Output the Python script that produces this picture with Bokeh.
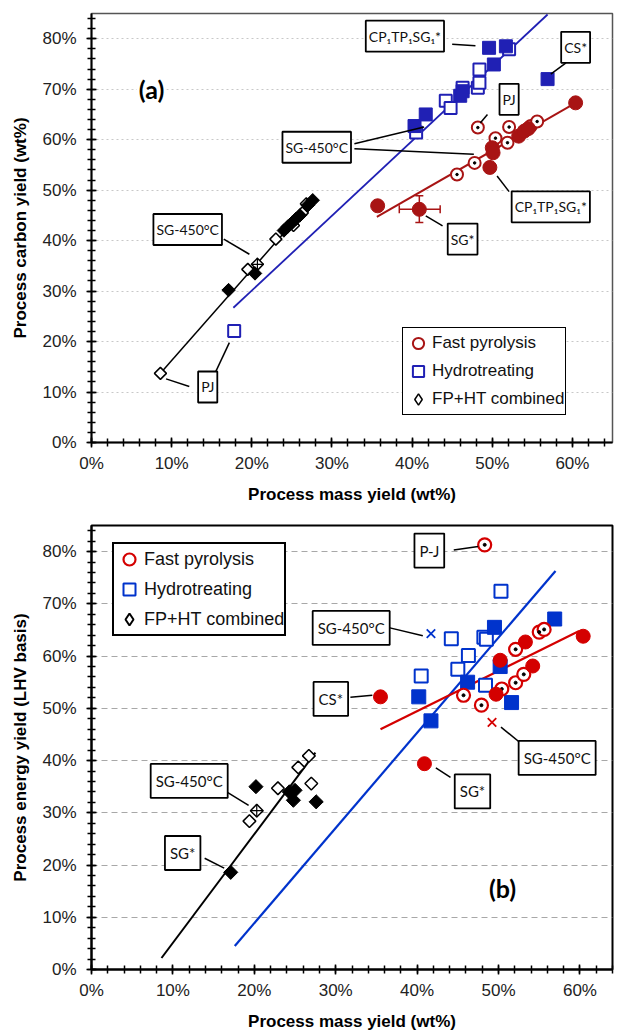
from bokeh.plotting import figure
from bokeh.models import (FixedTicker, Label, Legend, LegendItem, ColumnDataSource,
                          Whisker, TeeHead)
from bokeh.layouts import column
from bokeh.embed import file_html
from bokeh.resources import INLINE
import math

# ---------------- tick definitions ----------------
x_ticks = [0, 10, 20, 30, 40, 50, 60]
x_tick_labels = ["0%", "10%", "20%", "30%", "40%", "50%", "60%"]
y_ticks = [0, 10, 20, 30, 40, 50, 60, 70, 80]
y_tick_labels = ["0%", "10%", "20%", "30%", "40%", "50%", "60%", "70%", "80%"]
legend_labels = ["Fast pyrolysis", "Hydrotreating", "FP+HT combined"]

# ---------------- panel (a): carbon yield ----------------
a_fp_filled_x = [35.7, 40.9, 49.7, 50.0, 50.1, 53.3, 54.0, 54.5, 60.4]
a_fp_filled_y = [46.9, 46.2, 54.5, 58.4, 57.4, 60.7, 61.7, 62.2, 67.3]
a_fp_open_x = [45.6, 47.8, 48.2, 50.4, 51.9, 52.1, 54.8, 55.6]
a_fp_open_y = [53.1, 55.4, 62.4, 60.3, 59.4, 62.5, 62.7, 63.6]
a_sg_err_x = [40.9]
a_sg_err_y = [46.2]
a_sg_err_xlo = [38.4]
a_sg_err_xhi = [43.5]
a_sg_err_ylo = [43.6]
a_sg_err_yhi = [48.9]
a_fp_line_x = [35.6, 60.4]
a_fp_line_y = [44.7, 67.3]

a_ht_filled_x = [40.3, 41.7, 46.0, 46.3, 49.6, 50.2, 51.7, 56.9]
a_ht_filled_y = [62.7, 65.0, 68.7, 69.6, 78.2, 74.9, 78.5, 72.0]
a_ht_open_x = [17.8, 40.5, 44.2, 44.8, 46.3, 48.2, 48.4, 48.4, 52.1]
a_ht_open_y = [22.1, 61.4, 67.7, 66.3, 70.3, 70.3, 71.3, 73.9, 77.9]
a_ht_line_x = [17.7, 56.9]
a_ht_line_y = [26.7, 84.8]

a_comb_filled_x = [17.1, 20.4, 24.0, 24.5, 25.0, 25.5, 26.0, 27.0, 27.6]
a_comb_filled_y = [30.2, 33.5, 42.0, 42.8, 43.5, 44.3, 45.0, 47.0, 48.0]
a_comb_open_x = [8.6, 19.5, 23.0, 25.2, 26.3, 26.8]
a_comb_open_y = [13.7, 34.3, 40.3, 43.0, 45.5, 47.3]
a_comb_sg450_x = [20.7]
a_comb_sg450_y = [35.3]
a_comb_line_x = [8.6, 27.6]
a_comb_line_y = [13.7, 48.0]

# ---------------- panel (b): energy yield ----------------
b_fp_filled_x = [35.5, 40.9, 49.7, 50.2, 53.3, 54.2, 60.4]
b_fp_filled_y = [52.2, 39.4, 52.7, 59.2, 62.7, 58.1, 63.8]
b_fp_open_x = [48.3, 45.7, 47.9, 50.4, 52.1, 53.1, 52.1, 55.0, 55.6]
b_fp_open_y = [81.3, 52.5, 50.6, 53.7, 54.9, 56.5, 61.3, 64.6, 65.1]
b_fp_sg450_x = [49.2]
b_fp_sg450_y = [47.3]
b_fp_line_x = [35.5, 59.9]
b_fp_line_y = [46.0, 64.8]

b_ht_filled_x = [40.2, 41.7, 46.2, 49.5, 50.2, 51.6, 56.9]
b_ht_filled_y = [52.2, 47.6, 55.0, 65.5, 58.0, 51.1, 67.1]
b_ht_open_x = [40.5, 44.2, 45.0, 46.3, 48.2, 48.5, 48.4, 50.3]
b_ht_open_y = [56.2, 63.3, 57.5, 60.1, 63.6, 63.2, 54.4, 72.4]
b_ht_sg450_x = [41.7]
b_ht_sg450_y = [64.3]
b_ht_line_x = [17.6, 57.0]
b_ht_line_y = [4.5, 76.3]

b_comb_filled_x = [17.1, 20.2, 24.3, 24.8, 25.0, 27.6]
b_comb_filled_y = [18.6, 35.0, 34.0, 32.4, 34.3, 32.1]
b_comb_open_x = [19.4, 22.9, 25.4, 26.7, 27.0]
b_comb_open_y = [28.4, 34.7, 38.7, 40.9, 35.6]
b_comb_sg450_x = [20.3]
b_comb_sg450_y = [30.4]
b_comb_line_x = [8.6, 27.5]
b_comb_line_y = [2.2, 41.5]

# ---------------- annotations (text, anchor, connectors) ----------------
a_labels = [("CP\u2081TP\u2081SG\u2081*", 39.1, 80.5), ("CS*", 60.4, 78.3), ("PJ", 52.1, 68.0),
            ("SG-450\u00b0C", 28.1, 58.5), ("CP\u2081TP\u2081SG\u2081*", 57.3, 46.7), ("SG*", 46.3, 40.3),
            ("SG-450\u00b0C", 12.0, 42.2), ("PJ", 14.5, 11.0)]
a_conn = [(45.0, 78.9, 47.9, 78.6), (59.2, 75.2, 57.3, 73.0), (49.4, 65.0, 48.5, 63.3),
          (32.8, 59.2, 41.5, 62.5), (32.8, 58.2, 47.7, 57.1), (50.6, 52.8, 52.1, 49.7),
          (41.7, 44.9, 43.8, 42.9), (16.5, 40.3, 19.7, 37.3), (9.3, 12.6, 12.2, 11.1),
          (17.2, 19.8, 15.4, 13.7)]
b_labels = [("P-J", 41.5, 80.2), ("SG-450\u00b0C", 31.9, 65.4), ("CS*", 29.4, 51.8),
            ("SG-450\u00b0C", 57.2, 40.5), ("SG*", 46.8, 34.1), ("SG-450\u00b0C", 12.0, 36.1),
            ("SG*", 11.2, 22.3)]
b_conn = [(44.5, 80.3, 47.5, 81.0), (36.4, 65.5, 40.7, 63.9), (31.8, 52.1, 34.5, 52.5),
          (50.3, 46.4, 53.3, 42.6), (42.3, 38.6, 44.1, 36.8), (16.3, 34.3, 19.3, 31.4),
          (13.9, 21.3, 16.3, 19.4)]

AX_FONT = "Liberation Sans"
BOX_FONT = "Lato"


def make_fig(height, xmax, bb, bt, br, ylabel, grid_dash, grid_color, outline_color, outline_w):
    p = figure(width=622, height=height, x_range=(0, xmax), y_range=(0, 85),
               output_backend="svg", toolbar_location=None,
               min_border_left=91, min_border_right=br, min_border_top=bt, min_border_bottom=bb)
    p.xaxis.ticker = FixedTicker(ticks=x_ticks, minor_ticks=list(range(0, 66, 2)))
    p.yaxis.ticker = FixedTicker(ticks=y_ticks, minor_ticks=list(range(0, 86, 2)))
    p.xaxis.major_label_overrides = dict(zip(x_ticks, x_tick_labels))
    p.yaxis.major_label_overrides = dict(zip(y_ticks, y_tick_labels))
    for ax in (p.xaxis[0], p.yaxis[0]):
        ax.axis_line_color = "black"
        ax.axis_line_width = 2
        ax.major_tick_in = 5
        ax.major_tick_out = 5
        ax.minor_tick_in = 4
        ax.minor_tick_out = 4
        ax.major_tick_line_width = 1.5
        ax.minor_tick_line_width = 1.5
        ax.major_tick_line_color = "black"
        ax.minor_tick_line_color = "black"
        ax.major_label_text_font = AX_FONT
        ax.major_label_text_font_size = "17px"
        ax.major_label_text_color = "#222222"
        ax.axis_label_text_font = AX_FONT
        ax.axis_label_text_font_size = "17px"
        ax.axis_label_text_font_style = "bold"
        ax.axis_label_text_color = "black"
        ax.axis_label_standoff = 9
    p.xaxis.major_label_standoff = 6
    p.yaxis.major_label_standoff = 10
    p.xaxis.axis_label = "Process mass yield (wt%)"
    p.yaxis.axis_label = ylabel
    p.xgrid.visible = False
    p.ygrid.grid_line_color = grid_color
    p.ygrid.grid_line_dash = grid_dash
    p.ygrid.grid_line_width = 1.2
    p.outline_line_color = outline_color
    p.outline_line_width = outline_w
    p.background_fill_color = "white"
    p.border_fill_color = "white"
    return p


def add_labels(p, labels, conns, size, pad):
    for (x0, y0, x1, y1) in conns:
        p.segment(x0=[x0], y0=[y0], x1=[x1], y1=[y1], line_color="black", line_width=1.5)
    for (t, x, y) in labels:
        p.add_layout(Label(x=x, y=y, text=t, text_align="center", text_baseline="middle",
                           text_font=BOX_FONT, text_font_size=size, text_color="#111111",
                           border_line_color="black", border_line_width=1.8,
                           background_fill_color="white", padding=pad))


def make_legend(p, rends, loc, font_size, glyph, pad, bw):
    return Legend(items=[LegendItem(label=lab, renderers=[r]) for lab, r in zip(legend_labels, rends)],
                  location=loc, border_line_color="black", border_line_width=bw,
                  border_line_alpha=1.0,
                  label_text_font=AX_FONT, label_text_font_size=font_size, label_text_color="#111111",
                  glyph_width=glyph, glyph_height=glyph, label_standoff=0, spacing=0,
                  padding=pad, margin=0, label_height=glyph,
                  background_fill_color="white", background_fill_alpha=1.0)


# ================= Panel (a) =================
RED_A = "#A81414"
BLUE_A = "#2020B4"
pa = make_fig(510, 65, 68, 13, 10, "Process carbon yield (wt%)", "2 3", "#c8c8c8", "#555555", 1.5)

pa.line(a_comb_line_x, a_comb_line_y, line_color="black", line_width=1.5)
pa.line(a_ht_line_x, a_ht_line_y, line_color=BLUE_A, line_width=1.8)
pa.line(a_fp_line_x, a_fp_line_y, line_color=RED_A, line_width=2)

err_src = ColumnDataSource(dict(x=a_sg_err_x, y=a_sg_err_y, xlo=a_sg_err_xlo, xhi=a_sg_err_xhi,
                                ylo=a_sg_err_ylo, yhi=a_sg_err_yhi))
pa.add_layout(Whisker(source=err_src, base="y", lower="xlo", upper="xhi", dimension="width",
                      line_color=RED_A, line_width=1.5,
                      upper_head=TeeHead(size=8, line_color=RED_A, line_width=1.5),
                      lower_head=TeeHead(size=8, line_color=RED_A, line_width=1.5)))
pa.add_layout(Whisker(source=err_src, base="x", lower="ylo", upper="yhi", dimension="height",
                      line_color=RED_A, line_width=1.5,
                      upper_head=TeeHead(size=8, line_color=RED_A, line_width=1.5),
                      lower_head=TeeHead(size=8, line_color=RED_A, line_width=1.5)))

ra_ht = pa.scatter(a_ht_open_x, a_ht_open_y, marker="square", size=12, line_color=BLUE_A, line_width=2,
                   fill_color="white")
pa.scatter(a_ht_filled_x, a_ht_filled_y, marker="square", size=13, line_color=BLUE_A, fill_color=BLUE_A)
ra_fp = pa.scatter(a_fp_open_x, a_fp_open_y, marker="circle", size=12, line_color=RED_A, line_width=2,
                   fill_color="white")
pa.scatter(a_fp_open_x, a_fp_open_y, marker="circle", size=2.5, line_color="black", fill_color="black")
pa.scatter(a_fp_filled_x, a_fp_filled_y, marker="circle", size=14, line_color=RED_A, fill_color=RED_A)
ra_cb = pa.scatter(a_comb_open_x, a_comb_open_y, marker="diamond", size=10,
                   line_color="black", line_width=1.5, fill_color="white")
pa.scatter(a_comb_open_x, a_comb_open_y, marker="square", angle=math.pi / 4, size=8.5,
           line_color="black", line_width=1.5, fill_color="white")
pa.scatter(a_comb_sg450_x, a_comb_sg450_y, marker="square", angle=math.pi / 4, size=8.5,
           line_color="black", line_width=1.5, fill_color="white")
pa.scatter(a_comb_sg450_x, a_comb_sg450_y, marker="cross", size=13, line_color="black", line_width=1.2)
pa.scatter(a_comb_filled_x, a_comb_filled_y, marker="square", angle=math.pi / 4, size=9.5,
           line_color="black", fill_color="black")

add_labels(pa, a_labels, a_conn, "14px", (3, 7))
pa.add_layout(Label(x=7.5, y=70.0, text="(a)", text_align="center", text_baseline="middle",
                    text_font=BOX_FONT, text_font_size="25px", text_font_style="bold",
                    text_color="black", background_fill_color="white", padding=(2, 6)))

pa.add_layout(make_legend(pa, [ra_fp, ra_ht, ra_cb], (311, 27), "17px", 28, 1, 1.5))

# ================= Panel (b) =================
RED_B = "#D40000"
BLUE_B = "#0033CC"
pb = make_fig(523, 64, 61, 15, 1, "Process energy yield (LHV basis)", "6 4", "#a8a8a8", "black", 2)

pb.line(b_comb_line_x, b_comb_line_y, line_color="black", line_width=2)
pb.line(b_ht_line_x, b_ht_line_y, line_color=BLUE_B, line_width=2.2)
pb.line(b_fp_line_x, b_fp_line_y, line_color=RED_B, line_width=2.2)

rb_ht = pb.scatter(b_ht_open_x, b_ht_open_y, marker="square", size=13, line_color=BLUE_B, line_width=2,
                   fill_color="white")
pb.scatter(b_ht_filled_x, b_ht_filled_y, marker="square", size=14, line_color=BLUE_B, fill_color=BLUE_B)
pb.scatter(b_ht_sg450_x, b_ht_sg450_y, marker="x", size=12, line_color=BLUE_B, line_width=1.8)
rb_fp = pb.scatter(b_fp_open_x, b_fp_open_y, marker="circle", size=13, line_color=RED_B, line_width=2.2,
                   fill_color="white")
pb.scatter(b_fp_open_x, b_fp_open_y, marker="circle", size=3, line_color="black", fill_color="black")
pb.scatter(b_fp_filled_x, b_fp_filled_y, marker="circle", size=14, line_color=RED_B, fill_color=RED_B)
pb.scatter(b_fp_sg450_x, b_fp_sg450_y, marker="x", size=12, line_color=RED_B, line_width=1.8)
rb_cb = pb.scatter(b_comb_open_x, b_comb_open_y, marker="diamond", size=10,
                   line_color="black", line_width=2, fill_color="white")
pb.scatter(b_comb_open_x, b_comb_open_y, marker="square", angle=math.pi / 4, size=9,
           line_color="black", line_width=1.5, fill_color="white")
pb.scatter(b_comb_sg450_x, b_comb_sg450_y, marker="square", angle=math.pi / 4, size=9,
           line_color="black", line_width=1.5, fill_color="white")
pb.scatter(b_comb_sg450_x, b_comb_sg450_y, marker="cross", size=13, line_color="black", line_width=1.2)
pb.scatter(b_comb_filled_x, b_comb_filled_y, marker="square", angle=math.pi / 4, size=10,
           line_color="black", fill_color="black")

add_labels(pb, b_labels, b_conn, "15px", (5, 8))
pb.add_layout(Label(x=50.5, y=15.6, text="(b)", text_align="center", text_baseline="middle",
                    text_font=BOX_FONT, text_font_size="25px", text_font_style="bold",
                    text_color="black"))

pb.add_layout(make_legend(pb, [rb_fp, rb_ht, rb_cb], (21, 333), "18px", 30, 0, 2))

layout = column(pa, pb)
open("out.html", "w").write(file_html(layout, INLINE))
